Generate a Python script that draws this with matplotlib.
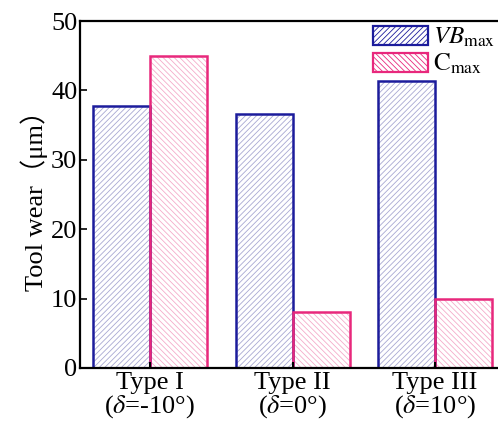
import numpy as np
import matplotlib
matplotlib.use("Agg")
import matplotlib.pyplot as plt
from matplotlib.patches import Patch

plt.rcParams['font.family'] = ['Liberation Serif', 'Noto Sans CJK SC']
plt.rcParams['mathtext.fontset'] = 'stix'
plt.rcParams['hatch.linewidth'] = 0.6

# data
types = ["Type I\n($\\delta$=-10°)", "Type II\n($\\delta$=0°)", "Type III\n($\\delta$=10°)"]
vb_max = [37.8, 36.6, 41.4]
c_max = [45.0, 8.0, 10.0]

blue = "#1c1c9c"
blue_light = "#a8a8d2"
pink = "#e8287c"
pink_light = "#f4acca"

fig = plt.figure(figsize=(4.98, 4.22), dpi=100)
ax = fig.add_axes([0.161, 0.128, 0.843, 0.822])

x = np.arange(len(types))
w = 0.4

# hatch layer (light lines), then outline layer
ax.bar(x - w/2, vb_max, w, color="white", edgecolor=blue_light, hatch="//////", linewidth=0)
ax.bar(x + w/2, c_max, w, color="white", edgecolor=pink_light, hatch="\\\\\\\\\\\\", linewidth=0)
ax.bar(x - w/2, vb_max, w, fill=False, edgecolor=blue, linewidth=1.8)
ax.bar(x + w/2, c_max, w, fill=False, edgecolor=pink, linewidth=1.8)

ax.set_xlim(-0.49, 2.456)
ax.set_ylim(0, 50)
ax.set_yticks([0, 10, 20, 30, 40, 50])
ax.set_xticks(x)
ax.set_xticklabels(types, fontsize=19, linespacing=0.95)
ax.tick_params(axis='y', direction='in', labelsize=19, width=1.2, length=5, pad=2)
ax.tick_params(axis='x', direction='in', width=1.5, length=4, pad=3)
for s in ax.spines.values():
    s.set_linewidth(1.6)

ax.set_ylabel("Tool wear（μm）", fontsize=19, labelpad=2)

handles = [
    Patch(facecolor="white", edgecolor=blue, hatch="//////", linewidth=1.6),
    Patch(facecolor="white", edgecolor=pink, hatch="\\\\\\\\\\\\", linewidth=1.6),
]
leg = ax.legend(handles, [r"$\mathit{VB}_{\mathrm{max}}$", r"$\mathrm{C}_{\mathrm{max}}$"],
                loc="upper right", bbox_to_anchor=(1.012, 1.015), frameon=False,
                fontsize=18, handlelength=2.2, handleheight=0.8,
                handletextpad=0.2, labelspacing=0.1, borderaxespad=0.0)

fig.savefig("out.png", dpi=100)
